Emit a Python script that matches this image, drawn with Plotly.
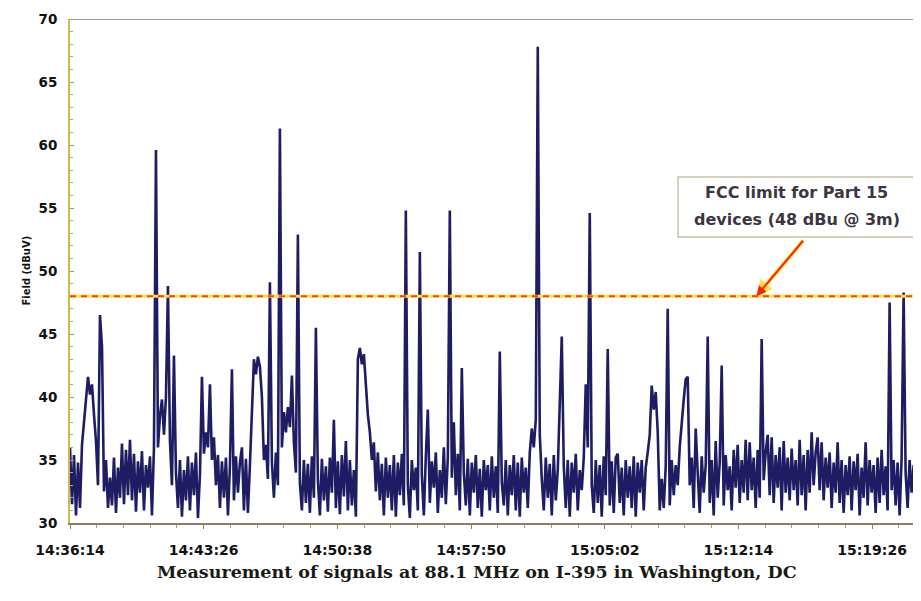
import plotly.graph_objects as go
from datetime import datetime, timedelta

# ---------------- data ----------------
start_time = "14:36:14"
sample_seconds = 6.46

field_dbuv = [
    36.0, 31.5, 35.4, 30.6, 34.8, 31.2, 36.2, 38.0, 39.5, 41.6,
    40.2, 41.0, 38.6, 36.5, 33.0, 46.5, 44.0, 32.5, 35.0, 31.2,
    33.6, 31.4, 35.2, 30.8, 34.4, 32.0, 36.3, 31.5, 35.8, 32.2,
    36.6, 31.8, 35.5, 30.9, 34.9, 32.4, 35.7, 31.0, 34.6, 32.8,
    35.3, 30.6, 36.0, 59.6, 36.0, 38.5, 39.8, 37.0, 40.0, 48.8,
    36.5, 33.0, 43.3, 34.0, 31.2, 35.0, 30.5, 34.2, 31.8, 35.3,
    31.0, 34.8, 32.2, 35.6, 30.4, 33.8, 41.6, 35.5, 37.2, 36.0,
    41.0, 35.0, 36.8, 33.0, 35.4, 31.2, 34.9, 32.0, 35.2, 30.6,
    34.5, 42.2, 31.8, 35.3, 32.4, 34.8, 36.0, 31.0, 35.1, 30.8,
    34.6, 38.5, 43.0, 41.8, 43.2, 42.4, 40.0, 35.0, 36.2, 33.5,
    49.1, 34.8, 32.0, 35.6, 33.0, 61.3, 36.0, 38.8, 37.2, 39.2,
    37.6, 41.7, 36.4, 34.0, 52.9, 33.2, 31.0, 35.0, 31.6, 34.7,
    30.8, 35.3, 32.0, 45.5, 33.4, 30.6, 35.1, 31.8, 34.5, 30.9,
    35.2, 32.4, 38.2, 31.2, 34.9, 30.7, 35.4, 32.1, 36.5, 31.0,
    35.0, 31.4, 34.2, 30.5, 43.0, 43.9, 42.6, 43.4, 40.8, 38.6,
    37.2, 35.0, 36.4, 32.5, 35.6, 31.8, 34.7, 30.6, 35.2, 32.0,
    34.6, 31.0, 35.4, 30.5, 34.8, 32.2, 35.5, 31.4, 54.8, 33.0,
    30.4, 35.0, 32.6, 34.4, 31.0, 51.5, 33.8, 30.6, 35.3, 39.0,
    31.6, 34.9, 32.8, 35.6, 30.8, 34.2, 32.0, 36.0, 31.5, 35.2,
    54.8, 33.6, 38.0, 32.2, 35.5, 31.0, 42.3, 34.0, 31.4, 35.1,
    30.6, 34.8, 32.4, 35.4, 31.2, 34.3, 30.5, 35.0, 32.6, 34.6,
    31.0, 35.3, 32.0, 34.5, 30.8, 43.6, 33.2, 31.4, 35.0, 30.6,
    34.6, 32.2, 35.4, 31.0, 34.8, 30.5, 35.2, 32.4, 34.4, 31.2,
    35.6, 37.5, 36.0, 38.2, 67.8, 37.0, 33.5, 31.0, 35.2, 32.0,
    34.7, 30.6, 35.4, 31.8, 34.2, 40.0, 44.8, 34.5, 31.2, 35.0,
    30.5, 34.8, 32.4, 35.5, 31.0, 34.2, 32.6, 35.2, 41.0, 36.0,
    54.6, 33.0, 30.8, 35.0, 31.6, 34.6, 30.5, 35.3, 32.2, 43.8,
    31.4, 34.9, 30.8, 35.2, 35.5, 31.6, 34.4, 30.6, 35.0, 32.0,
    34.5, 31.2, 35.3, 30.5, 34.8, 32.4, 35.0, 31.0, 34.4, 35.6,
    37.0, 40.9, 39.0, 40.4, 37.2, 31.0, 33.5, 31.2, 34.5, 47.0,
    31.4, 35.0, 32.2, 34.6, 33.0, 36.0, 38.2, 39.8, 41.4, 41.6,
    33.0, 35.2, 31.2, 37.5, 34.0, 30.8, 35.3, 32.4, 34.6, 44.8,
    31.6, 35.0, 30.6, 36.5, 32.0, 34.8, 42.5, 31.4, 35.4, 32.6,
    34.5, 31.0, 35.8, 32.8, 36.2, 31.6, 35.0, 32.4, 36.6, 31.8,
    36.4, 32.6, 35.2, 31.2, 35.8, 32.0, 44.6, 33.4, 35.6, 37.0,
    32.2, 36.8, 31.6, 35.4, 32.8, 36.0, 31.0, 36.5, 32.4, 35.2,
    31.8, 35.9, 32.6, 35.0, 31.4, 36.6, 32.2, 35.4, 31.0, 35.8,
    32.4, 37.2, 33.0, 35.6, 36.8, 32.6, 36.4, 31.8, 35.2, 32.8,
    35.6, 31.2, 34.8, 32.4, 36.4, 31.6, 35.0, 30.8, 34.6, 32.2,
    35.3, 31.0, 34.9, 32.6, 35.5, 30.6, 34.4, 32.0, 36.4, 31.4,
    35.0, 32.4, 34.6, 30.8, 35.2, 31.6, 35.8, 32.2, 34.5, 31.0,
    47.5, 32.6, 35.0, 31.4, 34.8, 30.6, 35.2, 48.3, 34.0, 31.2,
    35.0, 32.4, 34.6, 30.8, 35.3, 31.6,
]

tick_labels = ["14:36:14", "14:43:26", "14:50:38", "14:57:50",
               "15:05:02", "15:12:14", "15:19:26"]
axis_end_time = "15:22:04"
y_ticks = [30, 35, 40, 45, 50, 55, 60, 65, 70]
fcc_limit = 48
title_text = "Measurement of signals at 88.1 MHz on I-395 in Washington, DC"
y_title = "Field (dBuV)"
note_lines = ["FCC limit for Part 15", "devices (48 dBu @ 3m)"]
arrow_head_time = "15:13:12"

# ---------------- build ----------------
day = "2000-01-01 "
fmt = "%Y-%m-%d %H:%M:%S"
base = datetime.strptime(day + start_time, fmt)
times = [base + timedelta(seconds=i * sample_seconds) for i in range(len(field_dbuv))]
tickvals = [datetime.strptime(day + t, fmt) for t in tick_labels]
x_end = datetime.strptime(day + axis_end_time, fmt)

fig = go.Figure()
fig.add_trace(go.Scatter(
    x=times, y=field_dbuv, mode="lines",
    line=dict(color="#1f1c63", width=2.6),
    showlegend=False, hoverinfo="skip",
))

sans = "DejaVu Sans, Verdana, sans-serif"

# the page body adds an 8px offset; size/margins compensate for it
fig.update_layout(
    width=913, height=593,
    margin=dict(l=62, r=0, t=11, b=78),
    paper_bgcolor="white", plot_bgcolor="white",
    xaxis=dict(
        type="date", range=[base, x_end], automargin=False,
        tickvals=tickvals, ticktext=tick_labels,
        showgrid=False, zeroline=False,
        showline=True, linecolor="#8c7d62", linewidth=2,
        ticks="outside", ticklen=4, tickcolor="#8c7d62",
        minor=dict(ticks="outside", ticklen=3, dtick=86400,
                   tick0=base, tickcolor="#a09a88"),
        tickfont=dict(family=sans, size=14, color="#111111", weight="bold"),
        ticklabelstandoff=9,
    ),
    yaxis=dict(
        range=[30, 70], tickvals=y_ticks, automargin=False,
        showgrid=False, zeroline=False,
        showline=True, linecolor="#cbbd4c", linewidth=2,
        ticks="inside", ticklen=4, tickcolor="#9a9a80",
        minor=dict(ticks="inside", ticklen=3, dtick=1, tickcolor="#a8a898"),
        tickfont=dict(family=sans, size=13.5, color="#111111", weight="bold"),
        ticklabelstandoff=8,
    ),
)

# top border of the plot area
fig.add_shape(type="line", xref="paper", yref="y", x0=0, x1=1, y0=70, y1=70,
              line=dict(color="#9c9a84", width=2))

# FCC limit line: yellow under red-orange dashes
fig.add_shape(type="line", xref="paper", yref="y", x0=0, x1=1,
              y0=fcc_limit, y1=fcc_limit, line=dict(color="#ffe040", width=3))
fig.add_shape(type="line", xref="paper", yref="y", x0=0, x1=1,
              y0=fcc_limit, y1=fcc_limit,
              line=dict(color="#ff4010", width=2, dash="6px,5px"))

# annotation box
fig.add_shape(type="rect", xref="paper", yref="y", x0=0.7145, x1=0.994,
              y0=52.7, y1=57.46, line=dict(color="#c9c2a8", width=1.5),
              fillcolor="white")
box_font = dict(family=sans, size=16, color="#3d3540", weight="bold")
for txt, yy in zip(note_lines, [56.27, 54.05]):
    fig.add_annotation(xref="paper", yref="y", x=0.854, y=yy, text=txt,
                       showarrow=False, font=box_font, xanchor="center",
                       yanchor="middle")

# arrow (yellow halo + red)
head_x = datetime.strptime(day + arrow_head_time, fmt)
for col, w, s in [("#ffe040", 4, 0.8), ("#ff2000", 2, 1.0)]:
    fig.add_annotation(x=head_x, y=fcc_limit, xref="x", yref="y", text="",
                       showarrow=True, ax=48, ay=-57, axref="pixel", ayref="pixel",
                       arrowcolor=col, arrowwidth=w, arrowhead=2, arrowsize=s)

# y-axis title
fig.add_annotation(xref="paper", yref="paper", x=-0.061, y=0.5, text=y_title,
                   showarrow=False, textangle=-90,
                   font=dict(family=sans, size=10, color="#111111", weight="bold"))

# bottom caption
fig.add_annotation(xref="paper", yref="paper", x=0.478, y=-0.098, text=title_text,
                   showarrow=False, xanchor="center", yanchor="middle",
                   font=dict(family="DejaVu Serif, Liberation Serif, serif", size=17.5,
                             color="#1a1a14", weight="bold"))

fig.write_html("out.html")
